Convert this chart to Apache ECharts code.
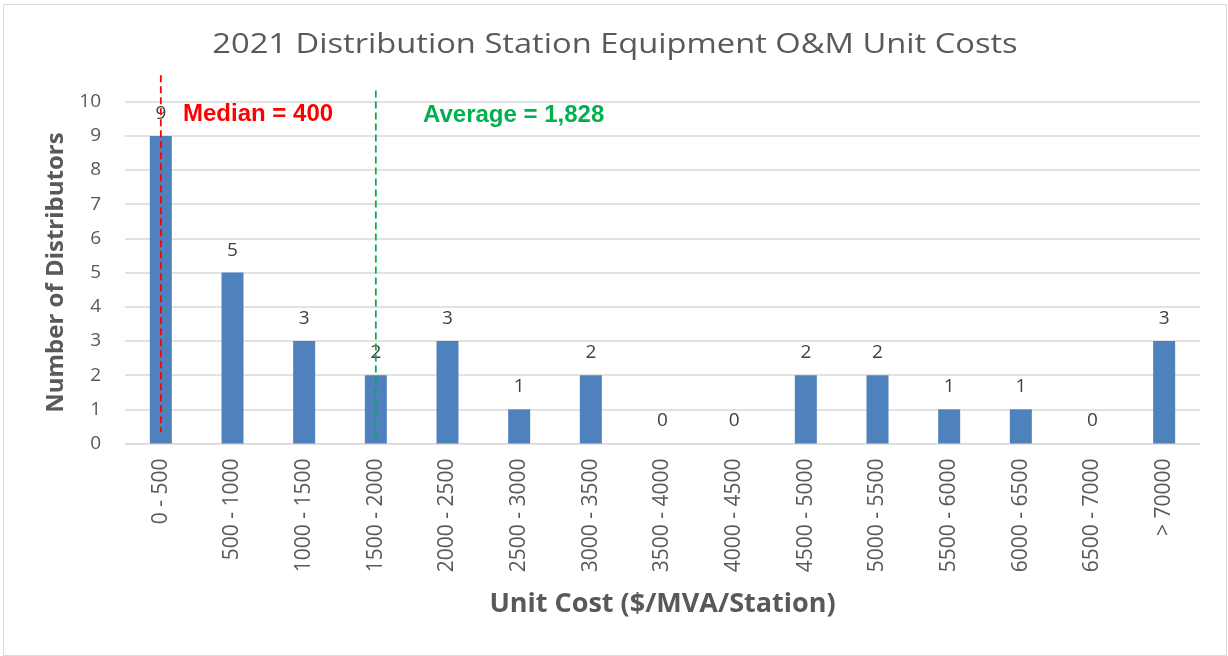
<!DOCTYPE html>
<html>
<head>
<meta charset="utf-8">
<script src="https://cdn.jsdelivr.net/npm/echarts@6/dist/echarts.min.js"></script>
<style>
  html, body { margin: 0; padding: 0; background: #fff; }
  #main { width: 1228px; height: 656px; }
</style>
</head>
<body>
<div id="main"></div>
<script>
// 数据
const categories = ['0 - 500', '500 - 1000', '1000 - 1500', '1500 - 2000', '2000 - 2500',
  '2500 - 3000', '3000 - 3500', '3500 - 4000', '4000 - 4500', '4500 - 5000',
  '5000 - 5500', '5500 - 6000', '6000 - 6500', '6500 - 7000', '> 70000'];
const distributors = [9, 5, 3, 2, 3, 1, 2, 0, 0, 2, 2, 1, 1, 0, 3];
// 参考线（类目位置 + 起止高度，以辅助坐标轴 0-11 计）
const medianLine = [['0 - 500', 10.77], ['0 - 500', 0.33]];
const averageLine = [['1500 - 2000', 10.33], ['1500 - 2000', 0.1]];

const font = 'Open Sans, Liberation Sans, sans-serif';
const arial = 'Liberation Sans, Arial, sans-serif';
const myChart = echarts.init(document.getElementById('main'));

const option = {
  animation: false,
  graphic: [
    {
      type: 'rect', left: 1, top: 2,
      shape: { width: 1223, height: 651 },
      style: { fill: 'none', stroke: '#d9d9d9', lineWidth: 1 }
    },
    {
      // 标题（横向略微拉宽，对应原图比例）
      type: 'text', x: 615, y: 45, scaleX: 1.21,
      style: {
        text: '2021 Distribution Station Equipment O&M Unit Costs',
        fill: '#595959', font: 'normal 27px ' + font,
        align: 'center', verticalAlign: 'middle'
      }
    },
    {
      type: 'text', left: 183, top: 102,
      style: { text: 'Median = 400', fill: '#ff0000', font: 'bold 24px ' + arial }
    },
    {
      type: 'text', left: 423, top: 103,
      style: { text: 'Average = 1,828', fill: '#00b050', font: 'bold 24px ' + arial }
    }
  ],
  grid: [
    { left: 125, right: 28, top: 101.7, bottom: 212.5 },
    { left: 125, right: 28, top: 67.5, bottom: 212.5 }
  ],
  xAxis: [
    {
      type: 'category',
      data: categories,
      gridIndex: 0,
      axisTick: { show: false },
      axisLine: { lineStyle: { color: '#d9d9d9' } },
      axisLabel: { rotate: 90, color: '#595959', fontSize: 21, fontFamily: font, margin: 15, interval: 0 },
      name: 'Unit Cost ($/MVA/Station)',
      nameLocation: 'middle',
      nameGap: 147,
      nameTextStyle: { color: '#595959', fontSize: 27, fontWeight: 'bold', fontFamily: font }
    },
    {
      type: 'category',
      data: categories,
      gridIndex: 1,
      show: false
    }
  ],
  yAxis: [
    {
      type: 'value',
      gridIndex: 0,
      min: 0, max: 10, interval: 1,
      axisLine: { show: false },
      axisTick: { show: false },
      axisLabel: { color: '#595959', fontSize: 19, fontFamily: font, margin: 24 },
      splitLine: { lineStyle: { color: '#d9d9d9', width: 1.5 } },
      name: 'Number of Distributors',
      nameLocation: 'middle',
      nameGap: 56,
      nameTextStyle: { color: '#595959', fontSize: 24, fontWeight: 'bold', fontFamily: font }
    },
    {
      type: 'value',
      gridIndex: 1,
      min: 0, max: 11,
      show: false,
      splitLine: { show: false }
    }
  ],
  series: [
    {
      name: 'Distributors',
      type: 'bar',
      data: distributors,
      barWidth: 22,
      itemStyle: { color: '#4f81bd' },
      label: { show: true, position: 'top', color: '#404040', fontSize: 19, fontFamily: font, distance: 13 }
    },
    {
      name: 'Median',
      type: 'line',
      xAxisIndex: 1, yAxisIndex: 1,
      data: medianLine,
      symbol: 'none',
      lineStyle: { color: '#ff0000', width: 1.8, type: [7, 4] },
      z: 5
    },
    {
      name: 'Average',
      type: 'line',
      xAxisIndex: 1, yAxisIndex: 1,
      data: averageLine,
      symbol: 'none',
      lineStyle: { color: '#00b050', width: 1.8, type: [7, 4] },
      z: 5
    }
  ]
};

myChart.setOption(option);
</script>
</body>
</html>
